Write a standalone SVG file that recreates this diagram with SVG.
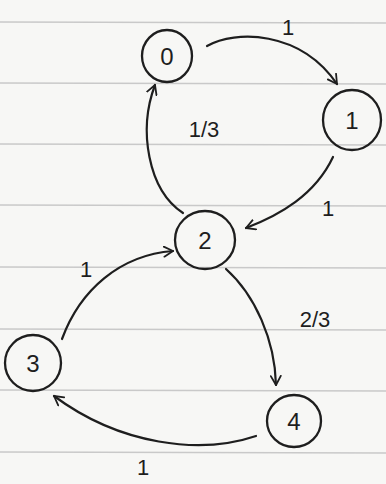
<svg xmlns="http://www.w3.org/2000/svg" width="386" height="484" viewBox="0 0 386 484">
<defs>
<marker id="arr" viewBox="0 0 12 12" refX="10" refY="6" markerWidth="12" markerHeight="12" markerUnits="userSpaceOnUse" orient="auto">
<polyline points="1,1 10,6 1,11" fill="none" stroke="#1e1e1e" stroke-width="1.8" stroke-linecap="round" stroke-linejoin="round"/>
</marker>
<style>
.rule{stroke:#c9c9c9;stroke-width:1.5}
.node ellipse{fill:none;stroke:#1e1e1e;stroke-width:2.3}
.node text{font-family:"Liberation Sans",sans-serif;font-size:24px;fill:#1e1e1e;text-anchor:middle}
.edge{fill:none;stroke:#1e1e1e;stroke-width:2.2;marker-end:url(#arr);stroke-linecap:round}
.lbl{font-family:"Liberation Sans",sans-serif;font-size:22px;fill:#1e1e1e;text-anchor:middle}
</style>
</defs>
<rect width="386" height="484" fill="#f7f7f5"/>
<g id="paper">
<line class="rule" x1="0" y1="22" x2="386" y2="23"/>
<line class="rule" x1="0" y1="83" x2="386" y2="84"/>
<line class="rule" x1="0" y1="144" x2="386" y2="145"/>
<line class="rule" x1="0" y1="205" x2="386" y2="206"/>
<line class="rule" x1="0" y1="267" x2="386" y2="268"/>
<line class="rule" x1="0" y1="329" x2="386" y2="330"/>
<line class="rule" x1="0" y1="390" x2="386" y2="391"/>
<line class="rule" x1="0" y1="452" x2="386" y2="453"/>
</g>
<g id="connectors">
<path class="edge" d="M207,46 C235,30 300,30 337,84"/>
<path class="edge" d="M333,157 C315,195 280,215 246,228"/>
<path class="edge" d="M183,213 C148,190 138,130 155,85"/>
<path class="edge" d="M62,339 C80,290 120,255 173,251"/>
<path class="edge" d="M226,269 C255,295 275,340 276,385"/>
<path class="edge" d="M256,436 C200,455 120,445 54,396"/>
<text class="lbl" x="288" y="35">1</text>
<text class="lbl" x="204" y="137">1/3</text>
<text class="lbl" x="328" y="216">1</text>
<text class="lbl" x="86" y="277">1</text>
<text class="lbl" x="315" y="327">2/3</text>
<text class="lbl" x="143" y="475">1</text>
</g>
<g id="node0" class="node"><ellipse cx="167" cy="56" rx="25" ry="26"/><text x="167" y="65">0</text></g>
<g id="node1" class="node"><ellipse cx="352" cy="120" rx="29" ry="30"/><text x="352" y="129">1</text></g>
<g id="node2" class="node"><ellipse cx="205" cy="240" rx="30" ry="29"/><text x="205" y="249">2</text></g>
<g id="node3" class="node"><ellipse cx="33" cy="363" rx="28" ry="28"/><text x="33" y="372">3</text></g>
<g id="node4" class="node"><ellipse cx="294" cy="421" rx="27" ry="26"/><text x="294" y="430">4</text></g>
</svg>
